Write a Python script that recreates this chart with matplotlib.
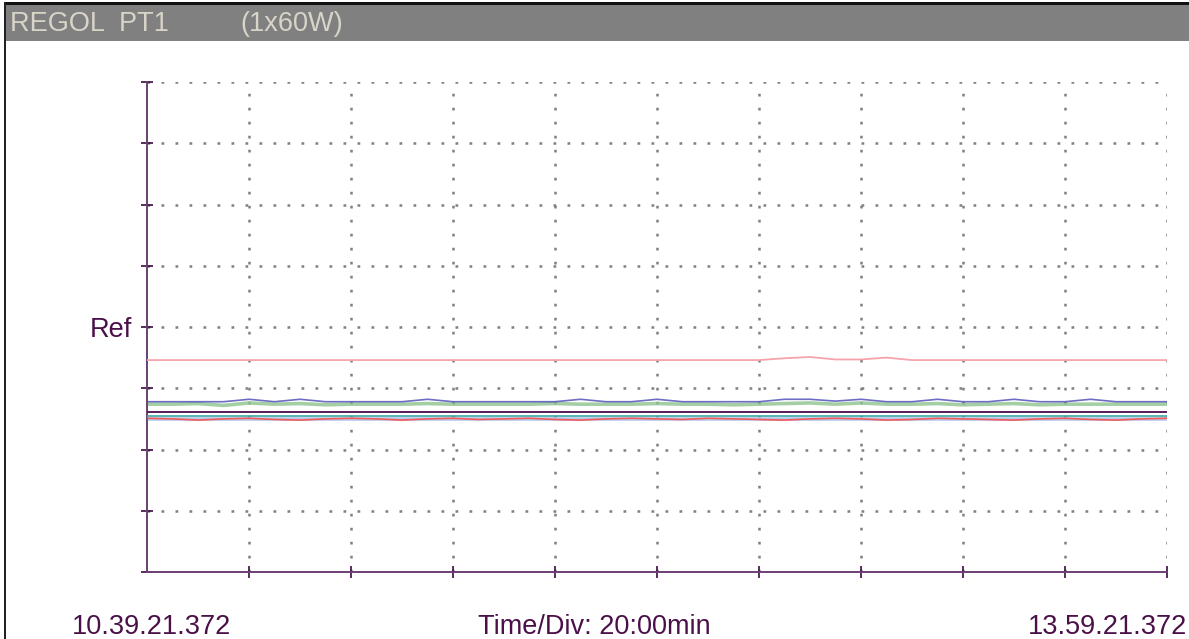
import matplotlib.pyplot as plt
from matplotlib.patches import Rectangle
import numpy as np

plt.rcParams['font.family'] = ['Liberation Sans', 'DejaVu Sans']

# time axis: minutes from start, 5 min steps, 10 divisions of 20 min
minutes = np.arange(0, 201, 5)

# values in screen units, 10 units per division, Ref = 0
pink = [-5.4] * 25 + [-5.1, -4.9, -5.3, -5.3, -5.0, -5.4] + [-5.4] * 10
blue = [-12.2, -12.2, -12.2, -12.2, -11.8, -12.2, -11.8, -12.2, -12.2, -12.2,
        -12.2, -11.8, -12.2, -12.2, -12.2, -12.2, -12.2, -11.8, -12.2, -12.2,
        -11.8, -12.2, -12.2, -12.2, -12.2, -11.8, -11.8, -12.1, -11.8, -12.2,
        -12.2, -11.8, -12.2, -12.2, -11.8, -12.2, -12.2, -11.8, -12.2, -12.2,
        -12.2]
green = [-12.6, -12.6, -12.5, -12.8, -12.4, -12.6, -12.5, -12.7, -12.6, -12.6,
         -12.6, -12.5, -12.6, -12.6, -12.6, -12.6, -12.5, -12.6, -12.6, -12.6,
         -12.5, -12.6, -12.6, -12.7, -12.6, -12.5, -12.4, -12.6, -12.4, -12.6,
         -12.6, -12.5, -12.7, -12.6, -12.5, -12.7, -12.6, -12.6, -12.6, -12.6,
         -12.6]
purple = [-13.9] * 41
teal = [-14.5] * 41
red = [-14.9, -15.0, -15.2, -15.0, -14.9, -15.1, -15.2, -15.0, -14.9, -15.0,
       -15.2, -15.0, -14.9, -15.1, -15.0, -14.9, -15.1, -15.2, -15.0, -14.9,
       -15.0, -15.1, -14.9, -15.0, -15.1, -15.2, -15.0, -14.9, -15.0, -15.2,
       -15.1, -14.9, -15.0, -15.1, -15.2, -15.0, -14.9, -15.1, -15.2, -15.0,
       -14.9]
lightblue = [-15.1] * 41

yticks = [-40, -30, -20, -10, 0, 10, 20, 30, 40]
ylabels = ['', '', '', '', 'Ref', '', '', '', '']
xticks = [20, 40, 60, 80, 100, 120, 140, 160, 180, 200]

W, H = 1189, 639
fig = plt.figure(figsize=(W / 100, H / 100), dpi=100)
ax = fig.add_axes([147 / W, 1 - 572 / H, (1167 - 147) / W, (572 - 82) / H])

axis_col = '#6e3f74'
grid_kw = dict(color='#808080', lw=1.8, linestyle=(0, (1.1, 4.5)), zorder=1)
for y in yticks[1:]:
    ax.axhline(y, **grid_kw)
for x in xticks:
    ax.axvline(x, **grid_kw)

ax.plot(minutes, lightblue, color='#b4c8ea', lw=2.6, zorder=2)
ax.plot(minutes, red, color='#f25a5a', lw=1.2, zorder=3)
ax.plot(minutes, teal, color='#3aa8a2', lw=1.2, zorder=3)
ax.plot(minutes, purple, color='#4a0b4c', lw=1.3, zorder=3)
ax.plot(minutes, green, color='#8ec48e', lw=2.6, alpha=0.8, zorder=2)
ax.plot(minutes, blue, color='#4848b8', lw=1.2, alpha=0.8, zorder=3)
ax.plot(minutes, pink, color='#f6a4aa', lw=1.3, zorder=3)

ax.set_xlim(0, 200)
ax.set_ylim(-40, 40)
ax.set_xticks(xticks)
ax.set_xticklabels([])
ax.set_yticks(yticks)
ax.set_yticklabels(ylabels)
ax.tick_params(axis='both', direction='inout', length=8, width=1.2,
               color='#3a0a3e', labelcolor='#4a1048', labelsize=19.5)
ax.tick_params(axis='y', pad=7)
for s in ['top', 'right']:
    ax.spines[s].set_visible(False)
for s in ['left', 'bottom']:
    ax.spines[s].set_color(axis_col)
    ax.spines[s].set_linewidth(1.4)

# header bar and frame
fig.add_artist(Rectangle((6 / W, 1 - 41 / H), 1, 36 / H, transform=fig.transFigure,
                         color='#808080', lw=0))
fig.add_artist(Rectangle((4 / W, 1 - 5 / H), 1, 3 / H, transform=fig.transFigure,
                         color='#111111', lw=0))
fig.add_artist(Rectangle((4 / W, 0), 2 / W, 1 - 2 / H, transform=fig.transFigure,
                         color='#222222', lw=0))
fig.text(10 / W, 1 - 24 / H, 'REGOL  PT1', color='#d8d4c8', fontsize=19.5,
         va='center', ha='left')
fig.text(240 / W, 1 - 24 / H, '(1x60W)', color='#d8d4c8', fontsize=19.5,
         va='center', ha='left')

txt_col = '#4a1048'
fig.text(151 / W, 1 - 627 / H, '10.39.21.372', color=txt_col, fontsize=19.5,
         va='center', ha='center')
fig.text(0.5, 1 - 627 / H, 'Time/Div: 20:00min', color=txt_col, fontsize=19.5,
         va='center', ha='center')
fig.text(1187 / W, 1 - 627 / H, '13.59.21.372', color=txt_col, fontsize=19.5,
         va='center', ha='right')

fig.savefig('out.png', dpi=100)
